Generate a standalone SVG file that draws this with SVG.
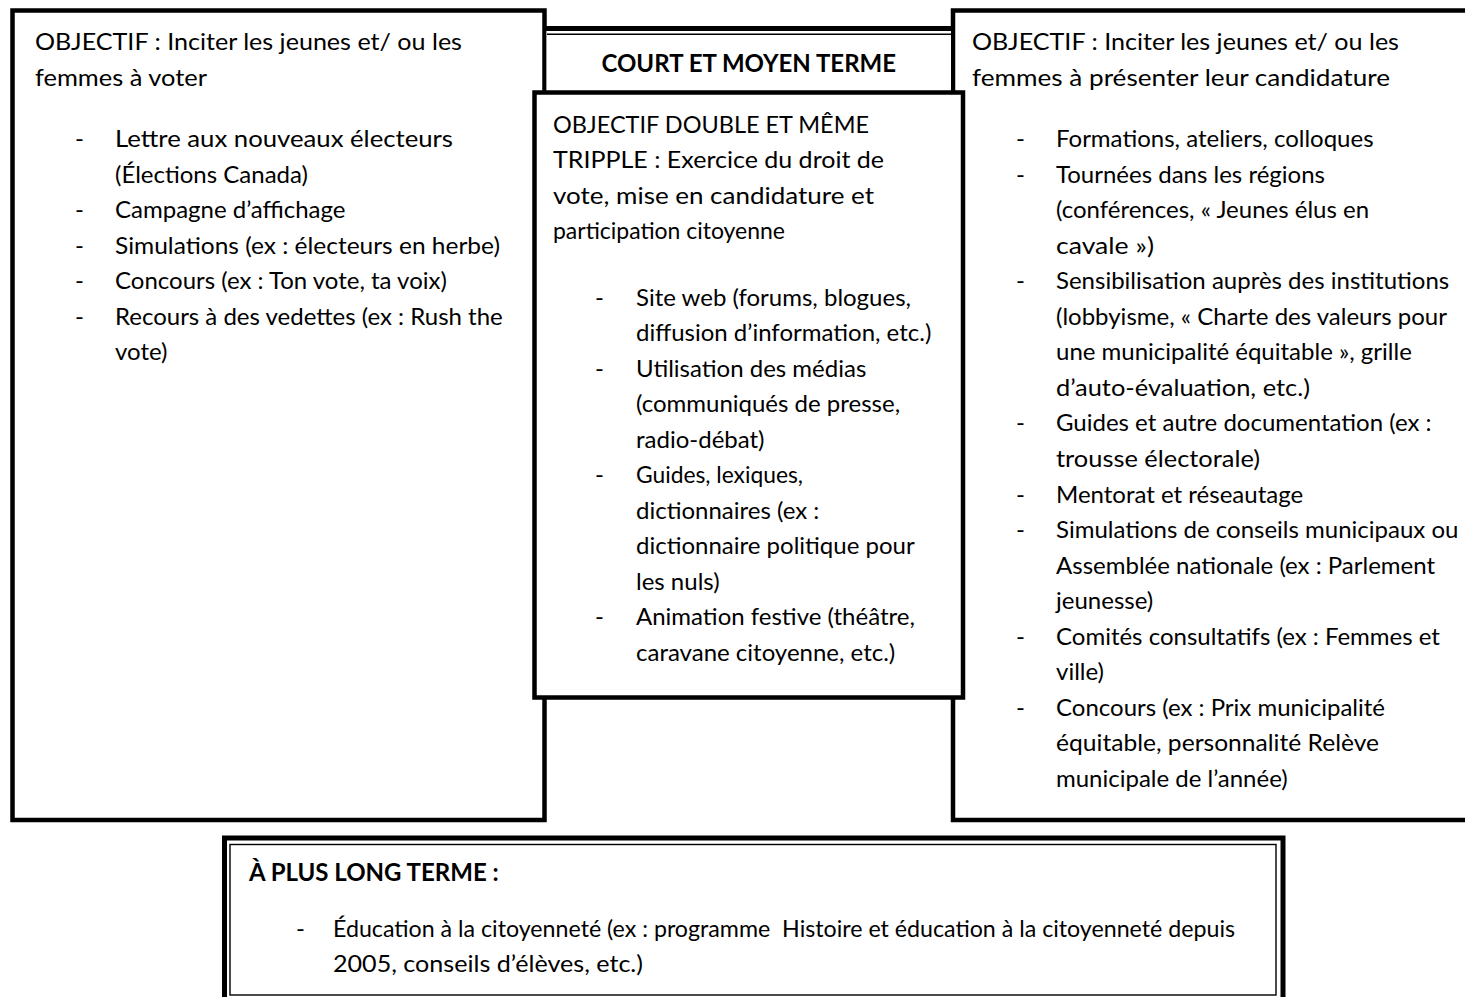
<svg xmlns="http://www.w3.org/2000/svg" width="1465" height="997" viewBox="0 0 1465 997">
  <style>
    .frame { fill: #ffffff; stroke: #000000; stroke-width: 4.5; }
    .rule-thick { stroke: #000000; stroke-width: 5; fill: none; }
    .rule-thin { stroke: #000000; stroke-width: 1.4; fill: none; }
    text { font-family: "Lato", "Liberation Sans", sans-serif; font-size: 24px; fill: #000000; }
    .b { font-weight: bold; }
    .mid { text-anchor: middle; }
    .pre { white-space: pre; }
  </style>

  <rect x="0" y="0" width="1465" height="997" fill="#ffffff"/>

  <!-- left column: voting -->
  <g id="left-box">
    <rect class="frame" x="12.5" y="10.5" width="532" height="809.5"/>
    <text x="35" y="50" textLength="427" lengthAdjust="spacingAndGlyphs">OBJECTIF : Inciter les jeunes et/ ou les</text>
    <text x="35" y="85.5" textLength="172" lengthAdjust="spacingAndGlyphs">femmes à voter</text>
    <text x="75" y="147">-</text>
    <text x="115" y="147" textLength="338" lengthAdjust="spacingAndGlyphs">Lettre aux nouveaux électeurs</text>
    <text x="115" y="182.5">(Élections Canada)</text>
    <text x="75" y="218">-</text>
    <text x="115" y="218">Campagne d’affichage</text>
    <text x="75" y="253.5">-</text>
    <text x="115" y="253.5" textLength="385" lengthAdjust="spacingAndGlyphs">Simulations (ex : électeurs en herbe)</text>
    <text x="75" y="289">-</text>
    <text x="115" y="289">Concours (ex : Ton vote, ta voix)</text>
    <text x="75" y="324.5">-</text>
    <text x="115" y="324.5">Recours à des vedettes (ex : Rush the</text>
    <text x="115" y="360">vote)</text>
  </g>

  <!-- right column: candidacy -->
  <g id="right-box">
    <rect class="frame" x="953" y="10.5" width="520" height="809.5"/>
    <text x="972" y="50" textLength="427" lengthAdjust="spacingAndGlyphs">OBJECTIF : Inciter les jeunes et/ ou les</text>
    <text x="972" y="85.5" textLength="418" lengthAdjust="spacingAndGlyphs">femmes à présenter leur candidature</text>
    <text x="1016" y="147">-</text>
    <text x="1056" y="147">Formations, ateliers, colloques</text>
    <text x="1016" y="182.5">-</text>
    <text x="1056" y="182.5">Tournées dans les régions</text>
    <text x="1056" y="218.1">(conférences, « Jeunes élus en</text>
    <text x="1056" y="253.6" textLength="98" lengthAdjust="spacingAndGlyphs">cavale »)</text>
    <text x="1016" y="289.2">-</text>
    <text x="1056" y="289.2">Sensibilisation auprès des institutions</text>
    <text x="1056" y="324.7">(lobbyisme, « Charte des valeurs pour</text>
    <text x="1056" y="360.3">une municipalité équitable », grille</text>
    <text x="1056" y="395.8" textLength="254" lengthAdjust="spacingAndGlyphs">d’auto-évaluation, etc.)</text>
    <text x="1016" y="431.4">-</text>
    <text x="1056" y="431.4">Guides et autre documentation (ex :</text>
    <text x="1056" y="466.9" textLength="204" lengthAdjust="spacingAndGlyphs">trousse électorale)</text>
    <text x="1016" y="502.5">-</text>
    <text x="1056" y="502.5">Mentorat et réseautage</text>
    <text x="1016" y="538">-</text>
    <text x="1056" y="538">Simulations de conseils municipaux ou</text>
    <text x="1056" y="573.6">Assemblée nationale (ex : Parlement</text>
    <text x="1056" y="609.1">jeunesse)</text>
    <text x="1016" y="644.7">-</text>
    <text x="1056" y="644.7">Comités consultatifs (ex : Femmes et</text>
    <text x="1056" y="680.2">ville)</text>
    <text x="1016" y="715.8">-</text>
    <text x="1056" y="715.8">Concours (ex : Prix municipalité</text>
    <text x="1056" y="751.3" textLength="323" lengthAdjust="spacingAndGlyphs">équitable, personnalité Relève</text>
    <text x="1056" y="786.9">municipale de l’année)</text>
  </g>

  <!-- title band between the two columns -->
  <g id="header">
    <rect x="546.5" y="31" width="404.5" height="62" fill="#ffffff"/>
    <line class="rule-thick" x1="544.5" y1="28.5" x2="953" y2="28.5"/>
    <line class="rule-thin" x1="547" y1="34.3" x2="951" y2="34.3"/>
    <text class="b mid" x="748.75" y="72">COURT ET MOYEN TERME</text>
  </g>

  <!-- centre box: combined objective -->
  <g id="middle-box">
    <rect class="frame" x="534.5" y="92.5" width="428.5" height="605"/>
    <text x="553" y="132.5" textLength="316" lengthAdjust="spacingAndGlyphs">OBJECTIF DOUBLE ET MÊME</text>
    <text x="553" y="168" textLength="331" lengthAdjust="spacingAndGlyphs">TRIPPLE : Exercice du droit de</text>
    <text x="553" y="203.5" textLength="321" lengthAdjust="spacingAndGlyphs">vote, mise en candidature et</text>
    <text x="553" y="239" textLength="232" lengthAdjust="spacingAndGlyphs">participation citoyenne</text>
    <text x="595" y="305.5">-</text>
    <text x="636" y="305.5">Site web (forums, blogues,</text>
    <text x="636" y="341">diffusion d’information, etc.)</text>
    <text x="595" y="376.6">-</text>
    <text x="636" y="376.6">Utilisation des médias</text>
    <text x="636" y="412.1">(communiqués de presse,</text>
    <text x="636" y="447.7">radio-débat)</text>
    <text x="595" y="483.2">-</text>
    <text x="636" y="483.2" textLength="167" lengthAdjust="spacingAndGlyphs">Guides, lexiques,</text>
    <text x="636" y="518.8">dictionnaires (ex :</text>
    <text x="636" y="554.3">dictionnaire politique pour</text>
    <text x="636" y="589.9">les nuls)</text>
    <text x="595" y="625.4">-</text>
    <text x="636" y="625.4">Animation festive (théâtre,</text>
    <text x="636" y="661">caravane citoyenne, etc.)</text>
  </g>

  <!-- long-term box with double border -->
  <g id="bottom-box">
    <rect x="224.5" y="838" width="1058.5" height="170" fill="#ffffff" stroke="#000000" stroke-width="5"/>
    <rect x="230" y="844.5" width="1046" height="150.5" fill="none" stroke="#000000" stroke-width="1.4"/>
    <text class="b" x="249" y="881">À PLUS LONG TERME :</text>
    <text x="296" y="936.5">-</text>
    <text class="pre" x="333" y="936.5" textLength="902" lengthAdjust="spacingAndGlyphs">Éducation à la citoyenneté (ex : programme  Histoire et éducation à la citoyenneté depuis</text>
    <text x="333" y="971.5" textLength="310" lengthAdjust="spacingAndGlyphs">2005, conseils d’élèves, etc.)</text>
  </g>
</svg>
